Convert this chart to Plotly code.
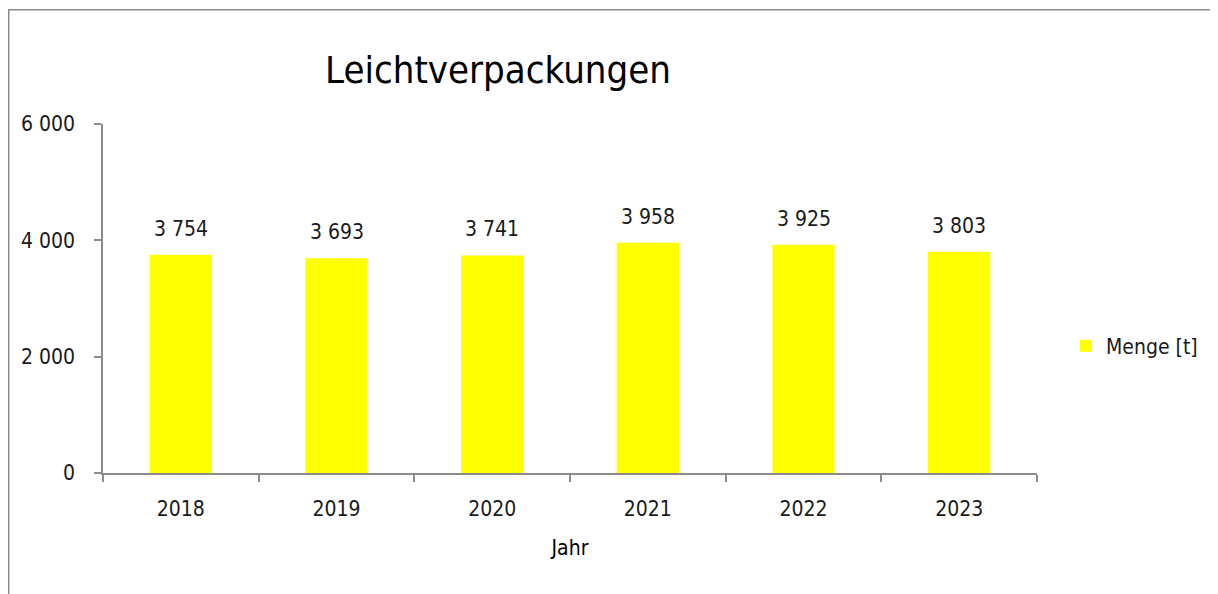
import plotly.graph_objects as go

years = ["2018", "2019", "2020", "2021", "2022", "2023"]
menge = [3754, 3693, 3741, 3958, 3925, 3803]
labels = ["3 754", "3 693", "3 741", "3 958", "3 925", "3 803"]
y_ticks = [0, 2000, 4000, 6000]
y_ticktext = ["0", "2 000", "4 000", "6 000"]

FONT = "DejaVu Sans Condensed, Roboto, sans-serif"
OFF = 8  # page body margin
W, H = 1218 - OFF, 594 - OFF
L, R, T, B = 103 - OFF, 1037 - OFF, 124 - OFF, 473 - OFF
pw, ph = R - L, B - T

fig = go.Figure()
fig.add_trace(go.Bar(
    x=years, y=menge, name="Menge [t]",
    marker=dict(color="#ffff00", line=dict(width=0)),
    width=0.4,
))

for i, (v, t) in enumerate(zip(menge, labels)):
    fig.add_annotation(x=i, y=v, text=t, showarrow=False, yshift=26,
                       font=dict(family=FONT, size=21, color="#1a1a1a"))

# outer frame
fig.add_shape(type="rect", xref="paper", yref="paper",
              x0=(8 - OFF + 0.75 - L) / pw, x1=(1300 - L) / pw,
              y0=(B - 700) / ph, y1=(B - (9 - OFF + 0.75)) / ph,
              line=dict(color="#8c8c8c", width=1.5), layer="below")

fig.update_layout(
    width=W, height=H,
    margin=dict(l=L, r=W - R, t=T, b=H - B, pad=0),
    paper_bgcolor="white", plot_bgcolor="white",
    font=dict(family=FONT, size=21, color="#1a1a1a"),
    title=dict(text="Leichtverpackungen", x=(498 - OFF) / W, xanchor="center",
               y=1 - (70 - OFF) / H, yanchor="middle",
               font=dict(family=FONT, size=38, color="black")),
    showlegend=True,
    legend=dict(x=(1066 - OFF - L) / pw, y=(B - (346 - OFF)) / ph,
                xanchor="left", yanchor="middle",
                font=dict(family=FONT, size=21, color="#1a1a1a"),
                itemwidth=30, bgcolor="rgba(0,0,0,0)"),
    xaxis=dict(
        type="category", tickson="boundaries", range=[-0.5, 5.5],
        showline=True, linecolor="#8c8c8c", linewidth=1.5,
        ticks="outside", ticklen=7, tickcolor="#8c8c8c", tickwidth=1.5,
        ticklabelstandoff=16, tickangle=0,
        showgrid=False, zeroline=False,
        title=dict(text="Jahr", standoff=20, font=dict(family=FONT, size=21, color="black")),
    ),
    yaxis=dict(
        range=[0, 6000], tickvals=y_ticks, ticktext=y_ticktext,
        showline=True, linecolor="#8c8c8c", linewidth=1.5,
        ticks="outside", ticklen=7, tickcolor="#8c8c8c", tickwidth=1.5,
        ticklabelstandoff=15,
        showgrid=False, zeroline=False,
    ),
)

fig.write_html("out.html")
